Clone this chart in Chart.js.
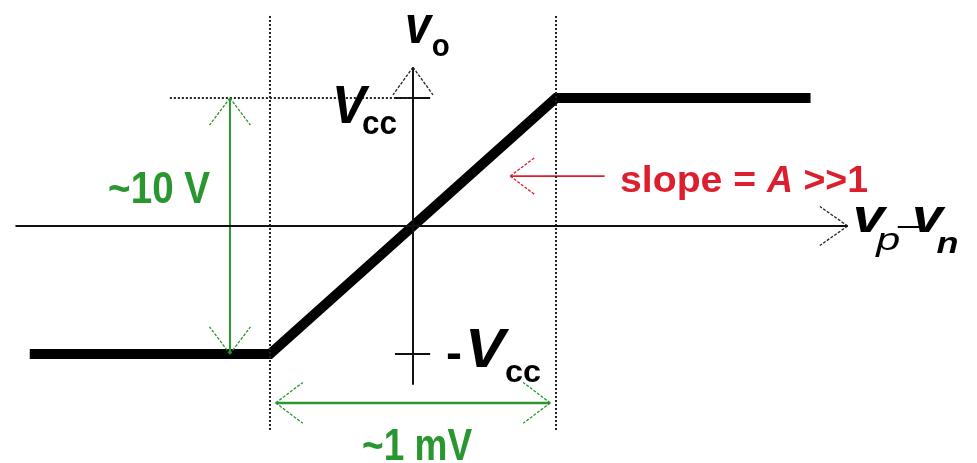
<!DOCTYPE html>
<html>
<head>
<meta charset="utf-8">
<script src="https://cdn.jsdelivr.net/npm/chart.js@4/dist/chart.umd.min.js"></script>
<style>
  html, body { margin: 0; padding: 0; background: #fff; }
  #wrap { width: 977px; height: 463px; }
</style>
</head>
<body>
<div id="wrap"><canvas id="opamp" width="977" height="463"></canvas></div>
<script>
// Transfer characteristic of an op-amp: x = vp - vn (mV), y = vo (V)
const curveX = [-1.34, -0.5, 0.5, 1.39];
const curveY = [-5, -5, 5, 5];

// axes drawn as lines through the origin
const hAxisX = [-1.39, 1.52];
const vAxisY = [-6.2, 6.2];

// saturation limits (dotted guides)
const railX = [-0.5, 0.5];
const railSpanY = [-7.97, 8.24];
const vccGuideX = [-0.85, 0];
const vcc = 5;
const tickX = [-0.063, 0.06];

// dimension arrows
const swingArrowX = -0.64;        // "~10 V" arrow
const spanArrowY = -6.91;         // "~1 mV" arrow
const spanArrowX = [-0.48, 0.48];
const slopeArrowX = [0.34, 0.67]; // pointer to the slope
const slopeArrowY = 1.95;

// view window
const xMin = -1.444, xMax = 1.972;
const yMin = -9.258, yMax = 8.828;

const green = '#2a9630';
const red = '#dc1f2e';

function seg(xs, ys, color, width, dash) {
  return {
    data: xs.map((x, i) => ({ x, y: ys[i] })),
    showLine: true, borderColor: color, borderWidth: width,
    borderDash: dash || [], pointRadius: 0, fill: false,
    borderJoinStyle: 'miter', borderCapStyle: 'butt', tension: 0
  };
}

const datasets = [
  seg(hAxisX, [0, 0], '#111', 2),
  seg([0, 0], vAxisY, '#111', 2),
  seg([railX[0], railX[0]], railSpanY, '#222', 2, [2, 2]),
  seg([railX[1], railX[1]], railSpanY, '#222', 2, [2, 2]),
  seg(vccGuideX, [vcc, vcc], '#222', 2, [2, 2]),
  seg(tickX, [vcc, vcc], '#111', 2),
  seg(tickX, [-vcc, -vcc], '#111', 2),
  seg([swingArrowX, swingArrowX], [vcc, -vcc], green, 2),
  seg(spanArrowX, [spanArrowY, spanArrowY], green, 2.5),
  seg(slopeArrowX, [slopeArrowY, slopeArrowY], red, 1.6),
  seg(curveX, curveY, '#000', 10)
];

function arrowHead(ctx, tx, ty, fx, fy, color, len, ang) {
  const a = Math.atan2(fy - ty, fx - tx);
  ctx.save();
  ctx.strokeStyle = color;
  ctx.lineWidth = 1.3;
  ctx.setLineDash([3, 1.5]);
  ctx.beginPath();
  [ang, -ang].forEach(d => {
    ctx.moveTo(tx, ty);
    ctx.lineTo(tx + len * Math.cos(a + d), ty + len * Math.sin(a + d));
  });
  ctx.stroke();
  ctx.restore();
}

function text(ctx, str, x, y, font, color, width) {
  ctx.save();
  ctx.font = font;
  ctx.fillStyle = color;
  ctx.textBaseline = 'alphabetic';
  const w = ctx.measureText(str).width;
  const sx = width ? width / w : 1;
  ctx.translate(x, y);
  ctx.scale(sx, 1);
  ctx.fillText(str, 0, 0);
  ctx.restore();
  return w * sx;
}

const annotations = {
  id: 'annotations',
  afterDatasetsDraw(chart) {
    const { ctx } = chart;
    const X = v => chart.scales.x.getPixelForValue(v);
    const Y = v => chart.scales.y.getPixelForValue(v);
    const deg = Math.PI / 180;

    // arrow heads
    arrowHead(ctx, X(hAxisX[1]), Y(0), X(0), Y(0), '#222', 34, 35 * deg);
    arrowHead(ctx, X(0), Y(vAxisY[1]), X(0), Y(0), '#222', 34, 36 * deg);
    arrowHead(ctx, X(swingArrowX), Y(vcc), X(swingArrowX), Y(0), green, 34, 37 * deg);
    arrowHead(ctx, X(swingArrowX), Y(-vcc), X(swingArrowX), Y(0), green, 34, 37 * deg);
    arrowHead(ctx, X(spanArrowX[0]), Y(spanArrowY), X(0), Y(spanArrowY), green, 34, 37 * deg);
    arrowHead(ctx, X(spanArrowX[1]), Y(spanArrowY), X(0), Y(spanArrowY), green, 34, 37 * deg);
    arrowHead(ctx, X(slopeArrowX[0]), Y(slopeArrowY), X(1), Y(slopeArrowY), red, 31, 37 * deg);

    const B = 'bold ', BI = 'italic bold ', F = 'px "Liberation Sans", Arial, sans-serif';
    // v_o
    text(ctx, 'v', X(-0.028), Y(7.15), BI + 54 + F, '#000', 26);
    text(ctx, 'o', X(0.066), Y(6.64), B + 32 + F, '#000', 18);
    // V_cc
    text(ctx, 'V', X(-0.283), Y(4.02), BI + 53 + F, '#000', 34);
    text(ctx, 'cc', X(-0.178), Y(3.59), B + 33 + F, '#000', 35);
    // -V_cc
    text(ctx, '-', X(0.115), Y(-5.55), B + 46 + F, '#000', 16);
    text(ctx, 'V', X(0.182), Y(-5.51), BI + 56 + F, '#000', 40);
    text(ctx, 'cc', X(0.322), Y(-6.09), B + 32 + F, '#000', 36);
    // vp - vn
    text(ctx, 'v', X(1.538), Y(-0.234), BI + 46 + F, '#000', 32);
    text(ctx, 'p', X(1.62), Y(-0.94), 'italic ' + 32 + F, '#000', 24);
    ctx.save();
    ctx.strokeStyle = '#000'; ctx.lineWidth = 2;
    ctx.beginPath(); ctx.moveTo(X(1.695), Y(-0.04)); ctx.lineTo(X(1.79), Y(-0.04)); ctx.stroke();
    ctx.restore();
    text(ctx, 'v', X(1.745), Y(-0.234), BI + 46 + F, '#000', 31);
    text(ctx, 'n', X(1.83), Y(-1.05), 'italic bold ' + 30 + F, '#000', 22);
    // dimension labels
    text(ctx, '~10 V', X(-1.066), Y(0.898), B + 44 + F, green, 102);
    text(ctx, '~1 mV', X(-0.178), Y(-9.14), B + 44 + F, green, 110);
    // slope label
    const sx = X(0.724), sy = Y(1.33);
    const fs = B + 37 + F;
    let w = text(ctx, 'slope = ', sx, sy, fs, red, 147);
    w += text(ctx, 'A', sx + w, sy, BI + 37 + F, red, 26);
    text(ctx, ' >>1', sx + w, sy, fs, red, 75);
  }
};

new Chart(document.getElementById('opamp').getContext('2d'), {
  type: 'scatter',
  data: { datasets },
  options: {
    responsive: false,
    animation: false,
    layout: { padding: 0 },
    plugins: { legend: { display: false }, tooltip: { enabled: false } },
    scales: {
      x: { type: 'linear', min: xMin, max: xMax, display: false },
      y: { type: 'linear', min: yMin, max: yMax, display: false }
    }
  },
  plugins: [annotations]
});
</script>
</body>
</html>
